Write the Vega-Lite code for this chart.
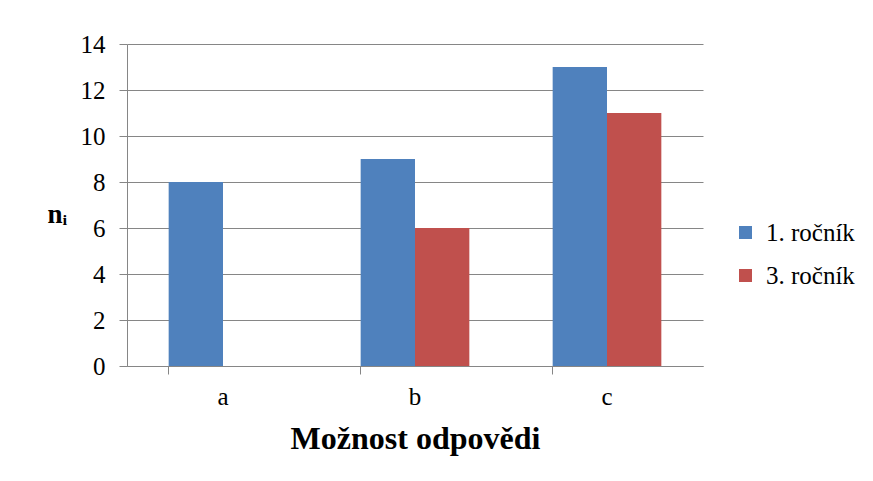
{
  "$schema": "https://vega.github.io/schema/vega-lite/v6.json",
  "width": 576,
  "height": 322,
  "autosize": {"type": "none"},
  "padding": {"left": 127, "top": 44, "right": 170, "bottom": 115},
  "background": "white",
  "config": {
    "font": "Times New Roman, Liberation Serif, serif",
    "view": {"stroke": null},
    "text": {"font": "Times New Roman, Liberation Serif, serif"},
    "legend": {"labelFont": "Times New Roman, Liberation Serif, serif"},
    "axis": {
      "labelFont": "Times New Roman, Liberation Serif, serif",
      "titleFont": "Times New Roman, Liberation Serif, serif",
      "labelColor": "black",
      "titleColor": "black",
      "domainColor": "#868686",
      "tickColor": "#868686",
      "gridColor": "#868686",
      "labelFontSize": 25,
      "tickSize": 8
    }
  },
  "data": {
    "values": [
      {"moznost": "a", "rocnik": "1. ročník", "n": 8},
      {"moznost": "b", "rocnik": "1. ročník", "n": 9},
      {"moznost": "b", "rocnik": "3. ročník", "n": 6},
      {"moznost": "c", "rocnik": "1. ročník", "n": 13},
      {"moznost": "c", "rocnik": "3. ročník", "n": 11}
    ]
  },
  "mark": {"type": "bar"},
  "encoding": {
    "x": {
      "field": "moznost",
      "type": "nominal",
      "scale": {"paddingInner": 0.434, "paddingOuter": 0.217},
      "axis": {
        "title": "Možnost odpovědi",
        "titleFontSize": 32,
        "titleFontWeight": "bold",
        "titlePadding": 14,
        "labelAngle": 0,
        "labelPadding": 10,
        "bandPosition": 0,
        "grid": false,
        "ticks": true
      }
    },
    "xOffset": {"field": "rocnik", "type": "nominal", "scale": {"domain": ["1. ročník", "3. ročník"]}},
    "y": {
      "field": "n",
      "type": "quantitative",
      "scale": {"domain": [0, 14]},
      "axis": {
        "title": "nᵢ",
        "titleAngle": 0,
        "titleFontSize": 27,
        "titleFontWeight": "bold",
        "titleAlign": "center",
        "titleBaseline": "middle",
        "titleX": -70,
        "titleY": 170,
        "values": [0, 2, 4, 6, 8, 10, 12, 14],
        "labelPadding": 14,
        "grid": true
      }
    },
    "color": {
      "field": "rocnik",
      "type": "nominal",
      "scale": {"domain": ["1. ročník", "3. ročník"], "range": ["#4F81BD", "#C0504D"]},
      "legend": {
        "title": null,
        "orient": "none",
        "legendX": 606,
        "legendY": 176,
        "padding": 0,
        "symbolType": "square",
        "symbolSize": 170,
        "symbolStrokeWidth": 0,
        "labelFont": "Times New Roman, Liberation Serif, serif",
        "labelFontSize": 25,
        "labelColor": "black",
        "labelOffset": 8,
        "rowPadding": 17
      }
    }
  }
}
